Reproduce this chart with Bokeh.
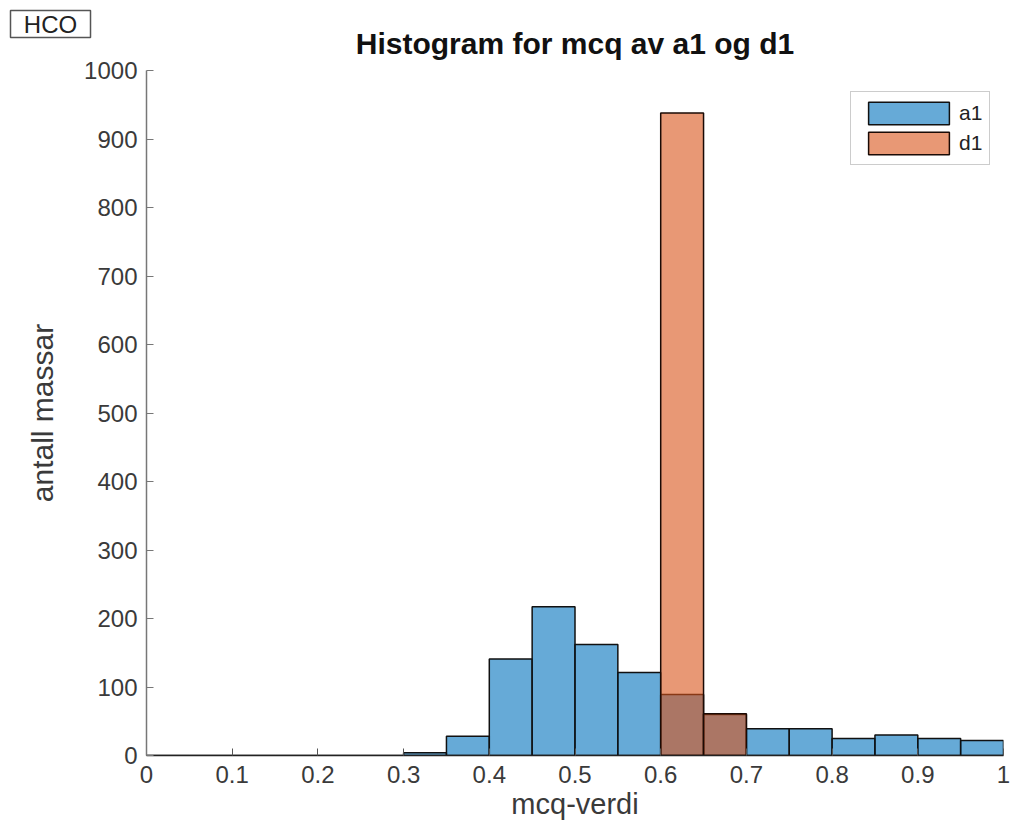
from bokeh.plotting import figure
from bokeh.models import Range1d, FixedTicker, Label, Legend, LegendItem, ColumnDataSource, Title
from bokeh.embed import file_html
from bokeh.resources import INLINE

# ---- data ----
bin_left = [0.00, 0.05, 0.10, 0.15, 0.20, 0.25, 0.30, 0.35, 0.40, 0.45,
            0.50, 0.55, 0.60, 0.65, 0.70, 0.75, 0.80, 0.85, 0.90, 0.95]
bin_right = [0.05, 0.10, 0.15, 0.20, 0.25, 0.30, 0.35, 0.40, 0.45, 0.50,
             0.55, 0.60, 0.65, 0.70, 0.75, 0.80, 0.85, 0.90, 0.95, 1.00]
a1_counts = [0, 0, 0, 0, 0, 0, 4, 28, 141, 217, 162, 121, 89, 60, 39, 39, 25, 30, 25, 22]
d1_counts = [0, 0, 0, 0, 0, 0, 0, 0, 0, 0, 0, 0, 938, 61, 0, 0, 0, 0, 0, 0]
x_ticks = [0, 0.1, 0.2, 0.3, 0.4, 0.5, 0.6, 0.7, 0.8, 0.9, 1.0]
x_tick_labels = ["0", "0.1", "0.2", "0.3", "0.4", "0.5", "0.6", "0.7", "0.8", "0.9", "1"]
y_ticks = [0, 100, 200, 300, 400, 500, 600, 700, 800, 900, 1000]
title_text = "Histogram for mcq av a1 og d1"
x_label = "mcq-verdi"
y_label = "antall massar"
tag_text = "HCO"

FONT = "Liberation Sans"
BLUE = "#0072BD"
ORANGE = "#D95319"

W, H = 1010, 822
FL, FT, FB, FR = 146, 70, 756, 1003   # frame edges in canvas pixels
p = figure(width=W, height=H, output_backend="svg", toolbar_location=None,
           x_range=Range1d(0, 1), y_range=Range1d(0, 1000))
p.min_border_left = FL
p.min_border_right = W - FR
p.min_border_top = FT
p.min_border_bottom = H - FB
p.outline_line_color = None
p.xgrid.visible = False
p.ygrid.visible = False
p.background_fill_color = "white"
p.border_fill_color = "white"

# HCO tag as the (outermost) plot title, drawn with a box
NB = "\u00a0\u00a0"
p.title = Title(text=NB + tag_text + NB, align="left", offset=10 - FL,
                text_font=FONT, text_font_size="24px", text_font_style="normal",
                text_color="#222222", standoff=0,
                background_fill_color="white",
                border_line_color="#555555", border_line_width=1.5)

src_a = ColumnDataSource(dict(left=bin_left, right=bin_right, top=a1_counts))
src_d = ColumnDataSource(dict(left=[l for l, c in zip(bin_left, d1_counts) if c > 0],
                              right=[r for r, c in zip(bin_right, d1_counts) if c > 0],
                              top=[c for c in d1_counts if c > 0]))

ra = p.quad(left="left", right="right", top="top", bottom=0, source=src_a,
            fill_color=BLUE, fill_alpha=0.6, line_color="#111111", line_width=1.5)
rd = p.quad(left="left", right="right", top="top", bottom=0, source=src_d,
            fill_color=ORANGE, fill_alpha=0.6, line_color="#1a0a05", line_width=1.5)

# axes
for ax in (p.xaxis[0], p.yaxis[0]):
    ax.major_tick_in = 7
    ax.major_tick_out = 0
    ax.minor_tick_in = 0
    ax.minor_tick_out = 0
    ax.major_label_text_font = FONT
    ax.major_label_text_font_size = "24px"
    ax.major_label_text_color = "#3a3a3a"
    ax.axis_label_text_font = FONT
    ax.axis_label_text_font_size = "29px"
    ax.axis_label_text_font_style = "normal"
    ax.axis_label_text_color = "#3a3a3a"

p.yaxis.axis_label_text_font_size = "30px"
p.xaxis.ticker = FixedTicker(ticks=x_ticks)
p.xaxis.major_label_overrides = {t: s for t, s in zip(x_ticks, x_tick_labels)}
p.yaxis.ticker = FixedTicker(ticks=y_ticks)
p.xaxis.axis_label = x_label
p.yaxis.axis_label = y_label
p.xaxis.axis_line_color = "#222222"
p.xaxis.axis_line_width = 1.5
p.xaxis.major_tick_line_color = "#555555"
p.yaxis.axis_line_color = "#777777"
p.yaxis.axis_line_width = 1.5
p.yaxis.major_tick_line_color = "#777777"
p.xaxis.major_label_standoff = 10
p.yaxis.major_label_standoff = 9
p.xaxis.axis_label_standoff = 2
p.yaxis.axis_label_standoff = 22

# main title as a label in the "above" panel nearest the frame
# (positions relative to the panel's bottom-left = frame's top-left)
p.add_layout(Label(x=(FR - FL) / 2, y=FT - 43, x_units="screen", y_units="screen",
                   text=title_text, text_align="center", text_baseline="middle",
                   text_font=FONT, text_font_size="30px", text_font_style="bold",
                   text_color="#111111"), "above")

legend = Legend(items=[LegendItem(label="a1", renderers=[ra]),
                       LegendItem(label="d1", renderers=[rd])],
                location=(850 - FL, FB - 166))
legend.glyph_width = 101
legend.glyph_height = 28
legend.label_text_font = FONT
legend.label_text_font_size = "21px"
legend.label_text_color = "#222222"
legend.label_standoff = 0
legend.label_height = 28
legend.spacing = 2
legend.padding = 7
legend.margin = 0
legend.border_line_color = "#999999"
legend.border_line_width = 1.5
legend.background_fill_color = "white"
legend.background_fill_alpha = 1.0
p.add_layout(legend)

open("out.html", "w").write(file_html(p, INLINE))
